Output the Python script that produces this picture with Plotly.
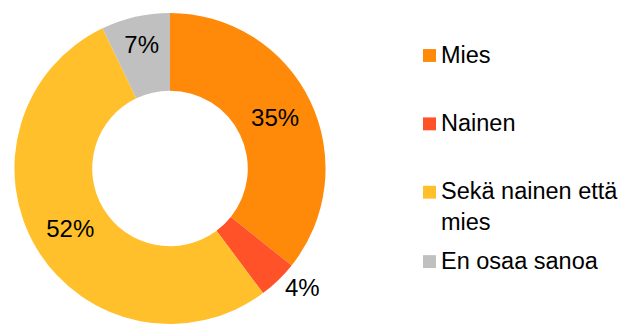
import plotly.graph_objects as go

# Survey answer shares (percent)
categories = ["Mies", "Nainen", "Sekä nainen että mies", "En osaa sanoa"]
legend_labels = ["Mies", "Nainen", "Sekä nainen että<br>mies", "En osaa sanoa"]
values = [35, 4, 52, 7]
colors = ["#FF8A0A", "#FF5229", "#FFC02B", "#C0C0C0"]
text_positions = ["inside", "outside", "inside", "inside"]

W, H = 621, 329
FONT = "Liberation Sans, Arial, sans-serif"

fig = go.Figure(
    go.Pie(
        labels=categories,
        values=values,
        hole=0.5,
        sort=False,
        direction="clockwise",
        rotation=0,
        marker=dict(colors=colors, line=dict(width=0)),
        texttemplate="%{value}%",
        textposition=text_positions,
        insidetextorientation="horizontal",
        textfont=dict(family=FONT, size=24, color="#000000"),
        domain=dict(x=[13 / W, 327 / W], y=[2 / H, 316 / H]),
        showlegend=False,
    )
)

# Legend drawn as colored squares with labels on the right
legend_y = [56, 125, 194, 264]
shapes, annotations = [], []
for lbl, col, yc in zip(legend_labels, colors, legend_y):
    shapes.append(dict(
        type="rect", xref="paper", yref="paper",
        x0=423 / W, x1=436 / W,
        y0=1 - (yc + 6.5) / H, y1=1 - (yc - 6.5) / H,
        fillcolor=col, line=dict(width=0),
    ))
    annotations.append(dict(
        text=lbl, xref="paper", yref="paper",
        x=439 / W, y=1 - (yc - 16) / H,
        xanchor="left", yanchor="top", align="left",
        showarrow=False,
        font=dict(family=FONT, size=23.5, color="#000000"),
    ))

fig.update_layout(
    width=W, height=H,
    margin=dict(l=0, r=0, t=0, b=0),
    paper_bgcolor="white",
    plot_bgcolor="white",
    uniformtext=dict(minsize=24, mode="show"),
    shapes=shapes,
    annotations=annotations,
)

fig.write_html("out.html")
